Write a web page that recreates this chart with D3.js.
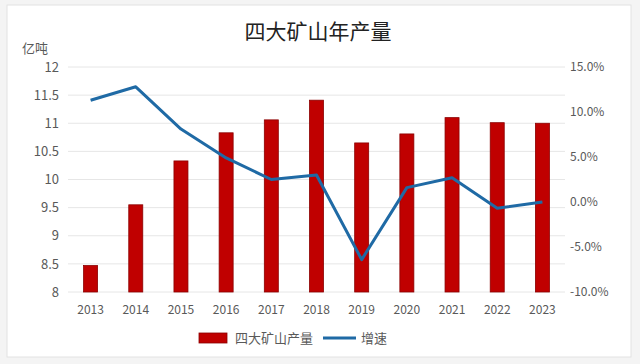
<!DOCTYPE html>
<html>
<head>
<meta charset="utf-8">
<script src="https://cdn.jsdelivr.net/npm/d3@7"></script>
<style>
  body { margin: 0; background: #f4f4f4; }
  text { font-family: "Noto Sans CJK SC", "Noto Sans", sans-serif; }
</style>
</head>
<body>
<div id="chart"></div>
<script>
const years = ['2013','2014','2015','2016','2017','2018','2019','2020','2021','2022','2023'];
const output = [8.47, 9.55, 10.33, 10.83, 11.06, 11.41, 10.65, 10.81, 11.10, 11.01, 11.0];
const growth = [11.3, 12.8, 8.1, 4.9, 2.5, 3.0, -6.4, 1.6, 2.7, -0.7, 0.0];
const leftTicks = [8, 8.5, 9, 9.5, 10, 10.5, 11, 11.5, 12];
const rightTicks = [-10, -5, 0, 5, 10, 15];

const W = 640, H = 364;
const margin = {top: 67, right: 75, bottom: 72, left: 68};
const plotWidth = W - margin.left - margin.right;
const plotHeight = H - margin.top - margin.bottom;

const svg = d3.select('#chart').append('svg')
    .attr('width', W)
    .attr('height', H);

// card
svg.append('rect')
    .attr('x', 7).attr('y', 5)
    .attr('width', 624).attr('height', 352)
    .attr('fill', '#fff')
    .attr('stroke', '#e2e2e2');

svg.append('text')
    .attr('x', 318).attr('y', 39)
    .attr('text-anchor', 'middle')
    .attr('font-size', 21)
    .attr('fill', '#222')
    .text('四大矿山年产量');

svg.append('text')
    .attr('x', 22).attr('y', 53)
    .attr('font-size', 13)
    .attr('fill', '#595959')
    .text('亿吨');

const g = svg.append('g')
    .attr('transform', `translate(${margin.left},${margin.top})`);

const x = d3.scaleBand().domain(years).range([0, plotWidth])
    .paddingInner(0.69).paddingOuter(0.345);
const yL = d3.scaleLinear().domain([8, 12]).range([plotHeight, 0]);
const yR = d3.scaleLinear().domain([-10, 15]).range([plotHeight, 0]);

// grid
g.selectAll('.grid')
    .data(leftTicks)
    .enter()
    .append('line')
        .attr('x1', 0).attr('x2', plotWidth)
        .attr('y1', d => yL(d)).attr('y2', d => yL(d))
        .attr('stroke', '#e6e6e6');

// left axis
const axL = g.append('g')
    .call(d3.axisLeft(yL).tickValues(leftTicks).tickSize(0).tickPadding(9).tickFormat(d3.format('')));
axL.select('.domain').remove();
axL.selectAll('text').attr('font-size', 13).attr('fill', '#595959');

// right axis
const axR = g.append('g')
    .attr('transform', `translate(${plotWidth},0)`)
    .call(d3.axisRight(yR).tickValues(rightTicks).tickSize(0).tickPadding(5).tickFormat(d => d.toFixed(1) + '%'));
axR.select('.domain').remove();
axR.selectAll('text').attr('font-size', 12).attr('fill', '#595959');

// bottom axis
const axB = g.append('g')
    .attr('transform', `translate(0,${plotHeight})`)
    .call(d3.axisBottom(x).tickSize(0).tickPadding(13));
axB.select('.domain').remove();
axB.selectAll('text').attr('font-size', 12).attr('fill', '#595959');

// bars
g.selectAll('.bar')
    .data(output)
    .enter()
    .append('rect')
        .attr('x', (d, i) => x(years[i]))
        .attr('y', d => yL(d))
        .attr('width', x.bandwidth())
        .attr('height', d => plotHeight - yL(d))
        .attr('fill', '#c00000')
        .attr('stroke', '#8b0000')
        .attr('stroke-width', 0.8);

// growth line
const line = d3.line()
    .x((d, i) => x(years[i]) + x.bandwidth() / 2)
    .y(d => yR(d));

g.append('path')
    .datum(growth)
    .attr('d', line)
    .attr('fill', 'none')
    .attr('stroke', '#1f6aa5')
    .attr('stroke-width', 3)
    .attr('stroke-linejoin', 'round');

// legend
const legend = svg.append('g');
legend.append('rect')
    .attr('x', 199).attr('y', 333)
    .attr('width', 28).attr('height', 10)
    .attr('fill', '#c00000')
    .attr('stroke', '#8b0000')
    .attr('stroke-width', 0.8);
legend.append('text')
    .attr('x', 235).attr('y', 343)
    .attr('font-size', 13)
    .attr('fill', '#595959')
    .text('四大矿山产量');
legend.append('line')
    .attr('x1', 323).attr('x2', 356)
    .attr('y1', 338).attr('y2', 338)
    .attr('stroke', '#1f6aa5')
    .attr('stroke-width', 3);
legend.append('text')
    .attr('x', 361).attr('y', 343)
    .attr('font-size', 13)
    .attr('fill', '#595959')
    .text('增速');
</script>
</body>
</html>
